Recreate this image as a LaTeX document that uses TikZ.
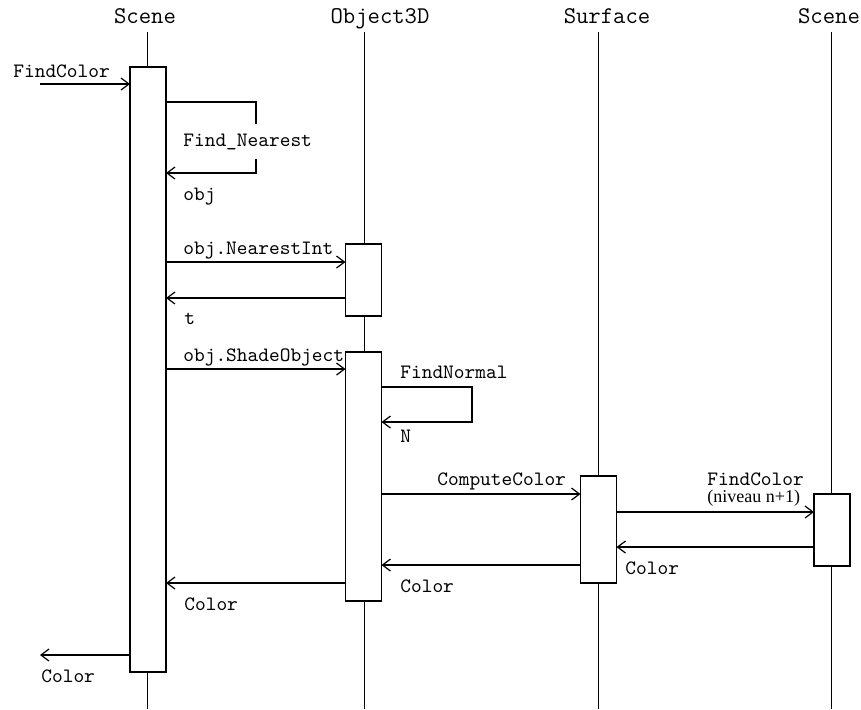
\documentclass[tikz,border=0pt]{standalone}
\usepackage{fontspec}
\usepackage{tikz}
\usetikzlibrary{arrows.meta,positioning,calc}
\newfontfamily\timesf{Liberation Serif}

\begin{document}
\begin{tikzpicture}[x=0.5pt,y=-0.5pt,
head/.style={anchor=base, inner sep=0pt, font=\ttfamily\fontsize{12}{14}\selectfont},
lbl/.style={anchor=base west, inner sep=0pt, font=\ttfamily\fontsize{10.2}{12}\selectfont},
life/.style={line width=0.5pt},
act/.style={draw, fill=white, line width=0.6pt, minimum width=18pt, inner sep=0pt, outer sep=0pt},
msg/.style={-{Straight Barb[length=4pt,width=6pt]}, line width=0.6pt}
]
\useasboundingbox (0,0) rectangle (861,709);

\node[head] (hsc1) at (145,23) {Scene};
\node[head] (hobj) at (380,23) {Object3D};
\node[head] (hsurf) at (607,23) {Surface};
\node[head] (hsc2) at (829,23) {Scene};

\coordinate (t1) at (147,32);  \coordinate (b1) at (147,709);
\coordinate (t2) at (364,32);  \coordinate (b2) at (364,709);
\coordinate (t3) at (598,32);  \coordinate (b3) at (598,709);
\coordinate (t4) at (831,32);  \coordinate (b4) at (831,709);
\draw[life] (t1) -- (b1);
\draw[life] (t2) -- (b2);
\draw[life] (t3) -- (b3);
\draw[life] (t4) -- (b4);

\node[act, minimum height=302.5pt] (sc1) at (148,369.5) {};
\node[act, minimum height=36pt] (ob1) at (363.5,280) {};
\node[act, minimum height=124.5pt] (ob2) at (363.5,476.5) {};
\node[act, minimum height=53.5pt] (su1) at (598.5,529.5) {};
\node[act, minimum height=36pt] (sc2) at (832,530) {};

\coordinate (in) at (40,84);
\coordinate (out) at (40,655);
\coordinate (fn) at (256,102);
\coordinate (fnorm) at (472,387);

\draw[msg] (in) -- (sc1.west |- in);
\node[lbl] (lfind) at (13,77) {FindColor};

\draw[msg] (sc1.east |- fn) -- (fn) |- (sc1.east |- 0,173);
\node[lbl, fill=white, inner ysep=5pt] (lnear) at (183,146) {Find\_Nearest};
\node[lbl] (lobj) at (183,200) {obj};

\draw[msg] (sc1.east |- 0,262) -- (ob1.west |- 0,262);
\node[lbl] (lnint) at (183,254) {obj.NearestInt};
\draw[msg] (ob1.west |- 0,298) -- (sc1.east |- 0,298);
\node[lbl] (lt) at (184,324) {t};

\draw[msg] (sc1.east |- 0,369) -- (ob2.west |- 0,369);
\node[lbl] (lshade) at (183,361) {obj.ShadeObject};

\draw[msg] (ob2.east |- fnorm) -- (fnorm) |- (ob2.east |- 0,422);
\node[lbl] (lnorm) at (400,378) {FindNormal};
\node[lbl] (ln) at (400,442) {N};

\draw[msg] (ob2.east |- 0,494) -- (su1.west |- 0,494);
\node[lbl] (lcomp) at (437,485) {ComputeColor};

\draw[msg] (su1.east |- 0,512) -- (sc2.west |- 0,512);
\node[lbl] (lfind2) at (707,485) {FindColor};
\node[anchor=base west, inner sep=0pt, font=\timesf\fontsize{9}{11}\selectfont] (lniv) at (707,502) {(niveau n+1)};

\draw[msg] (sc2.west |- 0,547) -- (su1.east |- 0,547);
\node[lbl] (lc1) at (625,574) {Color};
\draw[msg] (su1.west |- 0,565) -- (ob2.east |- 0,565);
\node[lbl] (lc2) at (400,592) {Color};
\draw[msg] (ob2.west |- 0,583) -- (sc1.east |- 0,583);
\node[lbl] (lc3) at (184,610) {Color};

\draw[msg] (sc1.west |- out) -- (out);
\node[lbl] (lc4) at (41,682) {Color};

\end{tikzpicture}
\end{document}
